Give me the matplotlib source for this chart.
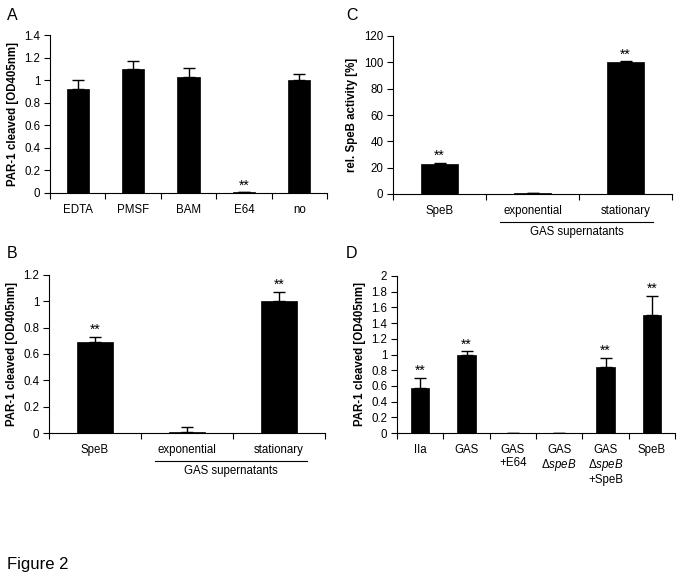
import matplotlib
matplotlib.use("Agg")
import matplotlib.pyplot as plt
import numpy as np

plt.rcParams['font.family'] = ['Liberation Sans', 'DejaVu Sans']
plt.rcParams['mathtext.fontset'] = 'custom'
plt.rcParams['mathtext.rm'] = 'Liberation Sans'
plt.rcParams['mathtext.it'] = 'Liberation Sans:italic'

# Panel A
a_cats = ["EDTA", "PMSF", "BAM", "E64", "no"]
a_vals = [0.92, 1.10, 1.03, 0.005, 1.0]
a_errs = [0.08, 0.07, 0.08, 0.0, 0.05]
a_sig = [False, False, False, True, False]
a_yticks = [0, 0.2, 0.4, 0.6, 0.8, 1, 1.2, 1.4]

# Panel B
b_cats = ["SpeB", "exponential", "stationary"]
b_vals = [0.69, 0.005, 1.0]
b_errs = [0.04, 0.04, 0.07]
b_sig = [True, False, True]
b_yticks = [0, 0.2, 0.4, 0.6, 0.8, 1, 1.2]

# Panel C
c_cats = ["SpeB", "exponential", "stationary"]
c_vals = [23, 0.4, 100]
c_errs = [0.5, 0.0, 0.7]
c_sig = [True, False, True]
c_yticks = [0, 20, 40, 60, 80, 100, 120]

# Panel D
d_cats = ["IIa", "GAS", "GAS\n+E64", "GAS\nΔ$\\it{speB}$", "GAS\nΔ$\\it{speB}$\n+SpeB", "SpeB"]
d_vals = [0.57, 1.0, 0.005, 0.005, 0.84, 1.5]
d_errs = [0.13, 0.04, 0.0, 0.0, 0.12, 0.25]
d_sig = [True, True, False, False, True, True]
d_yticks = [0, 0.2, 0.4, 0.6, 0.8, 1, 1.2, 1.4, 1.6, 1.8, 2]

W, H = 683, 579
fig = plt.figure(figsize=(W / 100, H / 100), dpi=100)

def rect(l, r, top, bot):
    return [l / W, 1 - bot / H, (r - l) / W, (bot - top) / H]

FS = 8.3

def panel(r, cats, vals, errs, sig, yticks, ylabel, ytop, group=False, sigoff=0.0):
    ax = fig.add_axes(r)
    n = len(cats)
    x = np.arange(n)
    ax.bar(x, vals, width=0.4, color='black', edgecolor='black', linewidth=0.5, zorder=2)
    ax.errorbar(x, vals, yerr=[np.zeros(n), errs], fmt='none', ecolor='black',
                elinewidth=1, capsize=4, capthick=1, zorder=3)
    for i in range(n):
        if sig[i]:
            ax.text(x[i], vals[i] + errs[i] + sigoff, "**", ha='center', va='bottom', fontsize=10)
    ax.set_xlim(-0.5, n - 0.5)
    ax.set_ylim(yticks[0], ytop)
    ax.set_yticks(yticks)
    ax.set_yticklabels([("%g" % t) for t in yticks], fontsize=FS)
    ax.set_xticks(x)
    ax.set_xticklabels(cats, fontsize=FS, linespacing=1.1)
    ax.set_xticks(np.arange(n + 1) - 0.5, minor=True)
    ax.tick_params(axis='x', which='major', length=0, pad=8)
    ax.tick_params(axis='x', which='minor', length=4, direction='out', width=0.8)
    ax.tick_params(axis='y', length=4, direction='out', width=0.8, pad=3)
    for s in ['top', 'right']:
        ax.spines[s].set_visible(False)
    for s in ['left', 'bottom']:
        ax.spines[s].set_linewidth(0.8)
    ax.set_ylabel(ylabel, fontsize=FS, fontweight='bold', labelpad=4)
    if group:
        tr = ax.get_xaxis_transform()
        ax.plot([0.65, 2.3], [-0.175, -0.175], color='black', lw=0.8, transform=tr, clip_on=False)
        ax.text(1.475, -0.2, "GAS supernatants", ha='center', va='top', fontsize=FS, transform=tr)
    return ax

panel(rect(50, 327, 35, 193), a_cats, a_vals, a_errs, a_sig, a_yticks,
      "PAR-1 cleaved [OD405nm]", 1.4, sigoff=0.0)
panel(rect(49, 325, 275, 433), b_cats, b_vals, b_errs, b_sig, b_yticks,
      "PAR-1 cleaved [OD405nm]", 1.2, group=True, sigoff=0.0)
panel(rect(393, 672, 36, 194), c_cats, c_vals, c_errs, c_sig, c_yticks,
      "rel. SpeB activity [%]", 120, group=True, sigoff=0)
panel(rect(397, 675, 276, 433), d_cats, d_vals, d_errs, d_sig, d_yticks,
      "PAR-1 cleaved [OD405nm]", 2, sigoff=0.0)

for lab, px, py in [("A", 7, 15), ("B", 7, 253), ("C", 346, 15), ("D", 346, 253)]:
    fig.text(px / W, 1 - py / H, lab, fontsize=11.5, ha='left', va='center')
fig.text(7 / W, 1 - 564 / H, "Figure 2", fontsize=12, ha='left', va='center')

fig.savefig("out.png", dpi=100)
